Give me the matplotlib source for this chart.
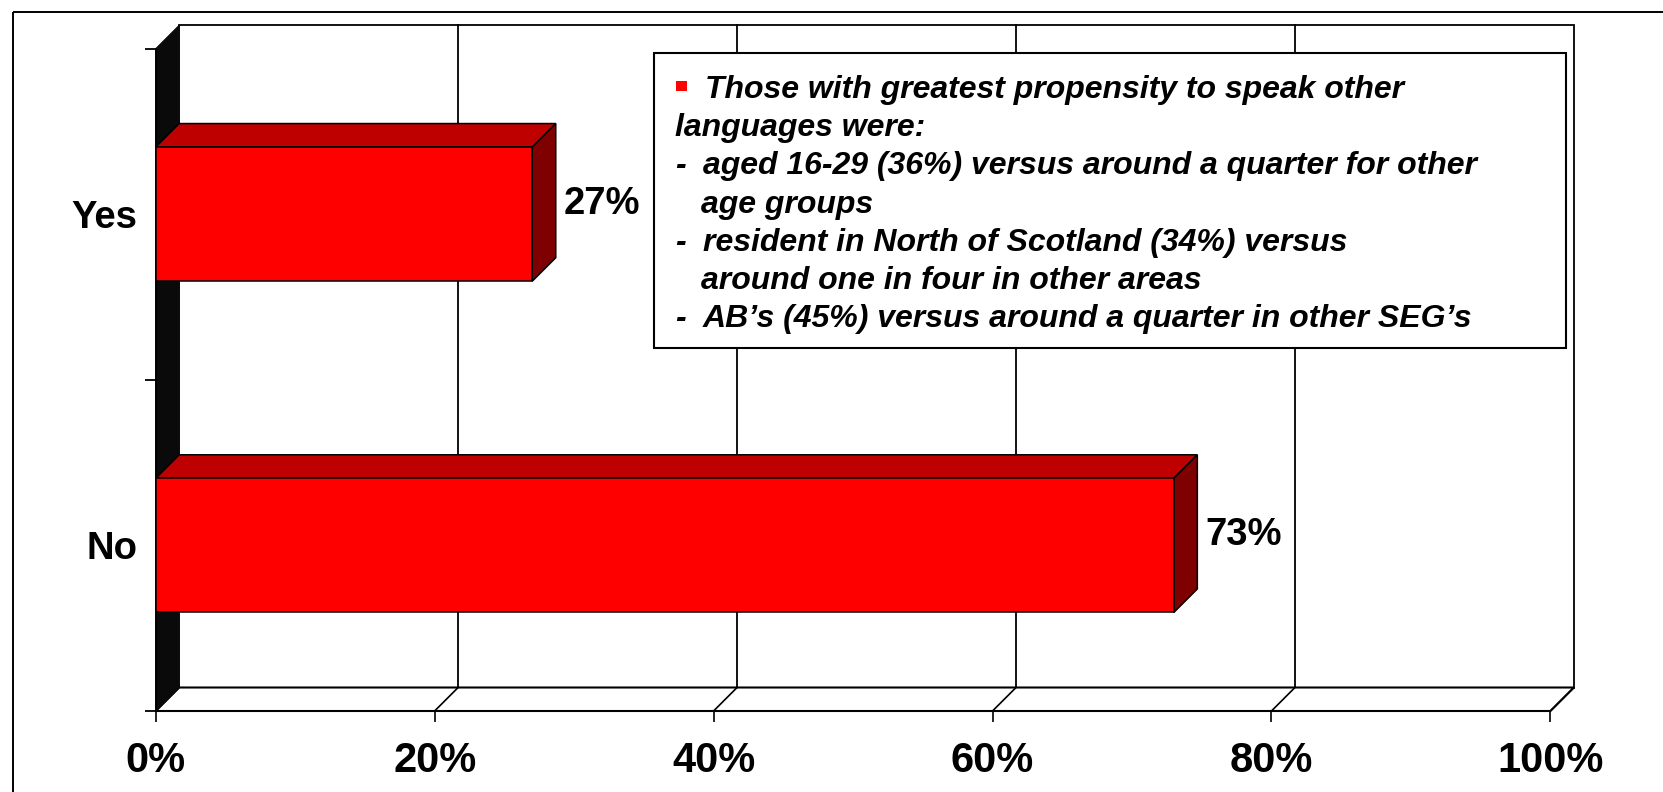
import matplotlib
matplotlib.use("Agg")
import matplotlib.pyplot as plt
from matplotlib.patches import Polygon, Rectangle

# survey answers, bottom to top
categories = ["No", "Yes"]
values = [73, 27]
x_ticks = [0, 20, 40, 60, 80, 100]
x_tick_labels = ["0%", "20%", "40%", "60%", "80%", "100%"]

note_head = ["Those with greatest propensity to speak other", "languages were:"]
note_points = [
    ["aged 16-29 (36%) versus around a quarter for other", "age groups"],
    ["resident in North of Scotland (34%) versus", "around one in four in other areas"],
    ["AB\u2019s (45%) versus around a quarter in other SEG\u2019s"],
]

W, H = 1663, 792
plt.rcParams['font.family'] = ['Liberation Sans', 'DejaVu Sans']
fig = plt.figure(figsize=(W / 100, H / 100), dpi=100)

# front plane of the 3d plot area (pixels) and depth of the walls
x0, x1 = 155.7, 1550.4
y_top, y_bot = 48.5, 711
depth = 23.5

ax = fig.add_axes([x0 / W, 1 - y_bot / H, (x1 - x0) / W, (y_bot - y_top) / H])
ax.set_xlim(0, 100)
ax.set_ylim(-0.5, 1.5)
ax.patch.set_visible(False)

dx = depth / (x1 - x0) * 100
dy = depth / (y_bot - y_top) * 2
lo, hi = -0.5, 1.5

# back wall with gridlines
ax.add_patch(Rectangle((dx, lo + dy), 100, hi - lo, fc='white', ec='black',
                       lw=1.3, zorder=0.5, clip_on=False))
for t in x_ticks[1:-1]:
    ax.plot([t + dx, t + dx], [lo + dy, hi + dy], color='black', lw=1.3,
            zorder=0.6, clip_on=False)

# floor
ax.add_patch(Polygon([(0, lo), (dx, lo + dy), (100 + dx, lo + dy), (100, lo)],
                     closed=True, fc='white', ec='black', lw=1.5, zorder=0.7,
                     clip_on=False))
for t in x_ticks:
    ax.plot([t, t + dx], [lo, lo + dy], color='black', lw=1.2, zorder=0.75,
            clip_on=False)

# black side wall
ax.add_patch(Polygon([(0, lo), (0, hi), (dx, hi + dy), (dx, lo + dy)],
                     closed=True, fc='#0a0a0a', ec='#0a0a0a', lw=0.5,
                     zorder=0.8, clip_on=False))

# 3d bars: front face from barh, top and side faces offset by the depth
ypos = list(range(len(categories)))
bar_h = 0.405
ax.barh(ypos, values, height=bar_h, color='#ff0000', edgecolor='black',
        lw=1.1, zorder=3)
for y, v in zip(ypos, values):
    top = y + bar_h / 2
    bot = y - bar_h / 2
    ax.add_patch(Polygon([(0, top), (v, top), (v + dx, top + dy), (dx, top + dy)],
                         closed=True, fc='#bf0000', ec='black', lw=1.1,
                         zorder=2, clip_on=False))
    ax.add_patch(Polygon([(v, bot), (v, top), (v + dx, top + dy), (v + dx, bot + dy)],
                         closed=True, fc='#7f0000', ec='black', lw=1.1,
                         zorder=2, clip_on=False))
    ax.text(v + dx + 0.55, y, f"{v}%", ha='left', va='baseline',
            fontsize=27.5, fontweight='bold', zorder=4)

ax.set_xticks(x_ticks)
ax.set_xticklabels(x_tick_labels, fontsize=30, fontweight='bold')
ax.tick_params(axis='x', direction='out', length=7.9, width=1.2, pad=14)
ax.set_yticks(ypos)
ax.set_yticklabels(categories, fontsize=27.5, fontweight='bold')
ax.tick_params(axis='y', which='major', length=0, pad=13)
ax.set_yticks([-0.5, 0.5, 1.5], minor=True)
ax.tick_params(axis='y', which='minor', direction='out', length=7.9, width=1.3)
for side in ['top', 'right']:
    ax.spines[side].set_visible(False)
for side in ['left', 'bottom']:
    ax.spines[side].set_linewidth(1.3)
    ax.spines[side].set_zorder(0.9)

# overlay in pixel units for the outer frame and the note box
ov = fig.add_axes([0, 0, 1, 1], zorder=5)
ov.set_xlim(0, W)
ov.set_ylim(H, 0)
ov.axis('off')
ov.add_patch(Rectangle((13, 12), W, H, fill=False, ec='black', lw=1.4))
ov.add_patch(Rectangle((654, 52.7), 1566 - 654, 348.3 - 52.7, fc='white',
                       ec='black', lw=1.5))
ov.add_patch(Rectangle((676, 80.5), 10.5, 10.5, fc='#ff0000', ec='none'))

note_style = dict(fontsize=23, fontweight='bold', fontstyle='italic',
                  va='baseline', ha='left')
step = 38.07
base = 98.3
ov.text(705, base, note_head[0], **note_style)
ov.text(675, base + step, note_head[1], **note_style)
row = 2
for point in note_points:
    ov.text(675, base + row * step, "-", **note_style)
    ov.text(703, base + row * step, point[0], **note_style)
    row += 1
    for cont in point[1:]:
        ov.text(701, base + row * step, cont, **note_style)
        row += 1

fig.savefig("out.png", dpi=100, facecolor='white')
